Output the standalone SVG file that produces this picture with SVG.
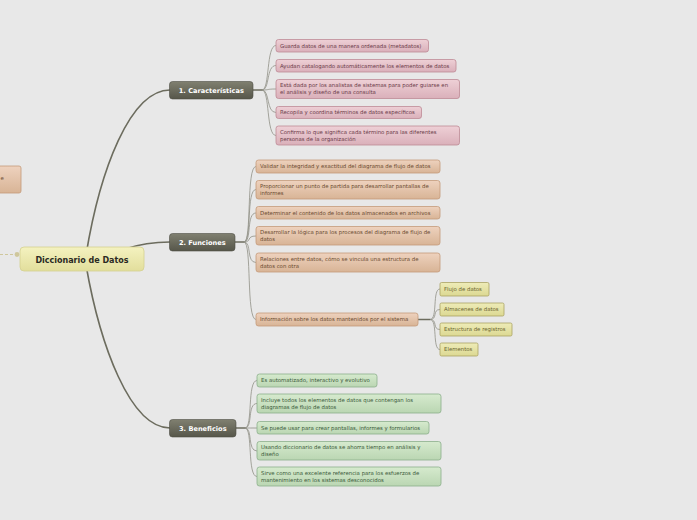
<svg xmlns="http://www.w3.org/2000/svg" width="697" height="520" viewBox="0 0 697 520">
<defs>
<linearGradient id="gPink" x1="0" y1="0" x2="0" y2="1"><stop offset="0" stop-color="#eed0d6"/><stop offset="1" stop-color="#dab0ba"/></linearGradient>
<linearGradient id="gTan" x1="0" y1="0" x2="0" y2="1"><stop offset="0" stop-color="#eed2be"/><stop offset="1" stop-color="#d8b496"/></linearGradient>
<linearGradient id="gYel" x1="0" y1="0" x2="0" y2="1"><stop offset="0" stop-color="#eeecb8"/><stop offset="1" stop-color="#dcd892"/></linearGradient>
<linearGradient id="gGrn" x1="0" y1="0" x2="0" y2="1"><stop offset="0" stop-color="#d6eace"/><stop offset="1" stop-color="#bad6b2"/></linearGradient>
<linearGradient id="gDark" x1="0" y1="0" x2="0" y2="1"><stop offset="0" stop-color="#808070"/><stop offset="1" stop-color="#56564a"/></linearGradient>
<linearGradient id="gCenter" x1="0" y1="0" x2="0" y2="1"><stop offset="0" stop-color="#f4f2c0"/><stop offset="1" stop-color="#e2de9c"/></linearGradient>
</defs>
<style>
.t{font-family:"DejaVu Sans",Verdana,sans-serif;font-size:5.4px}
.pink rect{fill:url(#gPink);stroke:#be8a96;stroke-width:0.8}
.pink text{fill:#6a3a48}
.tan rect{fill:url(#gTan);stroke:#c49a7a;stroke-width:0.8}
.tan text{fill:#6a4a30}
.yel rect{fill:url(#gYel);stroke:#aaa262;stroke-width:0.8}
.yel text{fill:#6a6430}
.grn rect{fill:url(#gGrn);stroke:#8cae8c;stroke-width:0.8}
.grn text{fill:#3a5a3a}
.br rect{fill:url(#gDark);stroke:#4e4e44;stroke-width:0.6}
.br text{font-family:"DejaVu Sans",Verdana,sans-serif;font-size:6.6px;font-weight:bold;fill:#ffffff}
.c{fill:none;stroke:#909086;stroke-width:0.8}
.m{fill:none;stroke:#6c6c5e;stroke-width:1.6;stroke-linecap:round}
</style>
<rect width="697" height="520" fill="#e8e8e8"/>

<g id="connectors">
<path class="m" d="M86 255 C100 170,130 90,170 90"/>
<path class="m" d="M125 249 C140 244,155 242,170 242"/>
<path class="m" d="M86 265 C100 345,130 428,170 428"/>
<path class="m" d="M253 90 L262 90"/>
<path class="m" d="M235 242 L244 242"/>
<path class="m" d="M236 428 L245 428"/>
<path class="m" d="M418 319.5 L430 319.5"/>
<path d="M0 254.5 L17 254.5" fill="none" stroke="#cfc79c" stroke-width="1" stroke-dasharray="3,2"/>
<circle cx="17" cy="254.5" r="2.4" fill="#cfc79c"/>
<path class="c" d="M262 90 C270 90,266 45.5,276 45.5"/>
<path class="c" d="M262 90 C270 90,266 65.5,276 65.5"/>
<path class="c" d="M262 90 C270 90,266 89,276 89"/>
<path class="c" d="M262 90 C270 90,266 112.5,276 112.5"/>
<path class="c" d="M262 90 C270 90,266 135.5,276 135.5"/>
<path class="c" d="M244 242 C252 242,246 166.5,256 166.5"/>
<path class="c" d="M244 242 C252 242,246 189.5,256 189.5"/>
<path class="c" d="M244 242 C252 242,246 213,256 213"/>
<path class="c" d="M244 242 C252 242,246 236,256 236"/>
<path class="c" d="M244 242 C252 242,246 262.5,256 262.5"/>
<path class="c" d="M244 242 C252 242,246 319.5,256 319.5"/>
<path class="c" d="M430 319.5 C438 319.5,432 289,440 289"/>
<path class="c" d="M430 319.5 C438 319.5,432 309.5,440 309.5"/>
<path class="c" d="M430 319.5 C438 319.5,432 329.5,440 329.5"/>
<path class="c" d="M430 319.5 C438 319.5,432 349.5,440 349.5"/>
<path class="c" d="M245 428 C253 428,247 380.5,257 380.5"/>
<path class="c" d="M245 428 C253 428,247 403.5,257 403.5"/>
<path class="c" d="M245 428 C253 428,247 428,257 428"/>
<path class="c" d="M245 428 C253 428,247 451,257 451"/>
<path class="c" d="M245 428 C253 428,247 476.5,257 476.5"/>
</g>

<g id="left-cut" class="tan">
<rect x="-4" y="166" width="25" height="27" rx="2"/>
<text class="t" x="0.4" y="180">e</text>
</g>

<g id="central">
<rect x="20" y="247" width="124" height="24" rx="4" fill="url(#gCenter)" stroke="#d4d090" stroke-width="0.8"/>
<text x="82" y="262.5" text-anchor="middle" font-family="DejaVu Sans,Verdana,sans-serif" font-size="8" font-weight="bold" fill="#2a2a22">Diccionario de Datos</text>
</g>

<g id="b1" class="br"><rect x="169.5" y="81.5" width="83.5" height="17.5" rx="3"/><text x="211.3" y="92.8" text-anchor="middle">1. Características</text></g>
<g id="b2" class="br"><rect x="169.5" y="233.5" width="65.5" height="17.5" rx="3"/><text x="202.3" y="244.8" text-anchor="middle">2. Funciones</text></g>
<g id="b3" class="br"><rect x="169.5" y="419.5" width="66.5" height="17.5" rx="3"/><text x="202.8" y="430.8" text-anchor="middle">3. Beneficios</text></g>

<g id="c1" class="pink"><rect x="276" y="39.5" width="152.5" height="12.5" rx="2.5"/><text class="t" x="280" y="47.6">Guarda datos de una manera ordenada (metadatos)</text></g>
<g id="c2" class="pink"><rect x="276" y="59.5" width="180" height="12.5" rx="2.5"/><text class="t" x="280" y="67.6">Ayudan catalogando automáticamente los elementos de datos</text></g>
<g id="c3" class="pink"><rect x="276" y="79.5" width="183.5" height="19" rx="2.5"/><text class="t" x="280" y="87">Está dada por los analistas de sistemas para poder guiarse en</text><text class="t" x="280" y="94">el análisis y diseño de una consulta</text></g>
<g id="c4" class="pink"><rect x="276" y="106.5" width="145.5" height="12" rx="2.5"/><text class="t" x="280" y="114.4">Recopila y coordina términos de datos específicos</text></g>
<g id="c5" class="pink"><rect x="276" y="126" width="183.5" height="19" rx="2.5"/><text class="t" x="280" y="133.5">Confirma lo que significa cada término para las diferentes</text><text class="t" x="280" y="140.5">personas de la organización</text></g>

<g id="f1" class="tan"><rect x="256" y="160" width="184" height="13" rx="2.5"/><text class="t" x="260" y="168.4">Validar la integridad y exactitud del diagrama de flujo de datos</text></g>
<g id="f2" class="tan"><rect x="256" y="180.5" width="184" height="18.5" rx="2.5"/><text class="t" x="260" y="188">Proporcionar un punto de partida para desarrollar pantallas de</text><text class="t" x="260" y="195">informes</text></g>
<g id="f3" class="tan"><rect x="256" y="206.5" width="184" height="12.5" rx="2.5"/><text class="t" x="260" y="214.6">Determinar el contenido de los datos almacenados en archivos</text></g>
<g id="f4" class="tan"><rect x="256" y="226.5" width="184" height="18.5" rx="2.5"/><text class="t" x="260" y="234">Desarrollar la lógica para los procesos del diagrama de flujo de</text><text class="t" x="260" y="241">datos</text></g>
<g id="f5" class="tan"><rect x="256" y="253" width="184" height="19" rx="2.5"/><text class="t" x="260" y="260.5">Relaciones entre datos, cómo se vincula una estructura de</text><text class="t" x="260" y="267.5">datos con otra</text></g>
<g id="f6" class="tan"><rect x="256" y="313" width="162" height="13" rx="2.5"/><text class="t" x="260" y="321.4">Información sobre los datos mantenidos por el sistema</text></g>

<g id="s1" class="yel"><rect x="440" y="282.5" width="49" height="13.5" rx="1.5"/><text class="t" x="444" y="291">Flujo de datos</text></g>
<g id="s2" class="yel"><rect x="440" y="303" width="64" height="13" rx="1.5"/><text class="t" x="444" y="311.4">Almacenes de datos</text></g>
<g id="s3" class="yel"><rect x="440" y="323" width="72" height="13" rx="1.5"/><text class="t" x="444" y="331.4">Estructura de registros</text></g>
<g id="s4" class="yel"><rect x="440" y="343" width="38" height="13" rx="1.5"/><text class="t" x="444" y="351.4">Elementos</text></g>

<g id="g1" class="grn"><rect x="257" y="374" width="120" height="13" rx="2.5"/><text class="t" x="261" y="382.4">Es automatizado, interactivo y evolutivo</text></g>
<g id="g2" class="grn"><rect x="257" y="394" width="184" height="19" rx="2.5"/><text class="t" x="261" y="401.5">Incluye todos los elementos de datos que contengan los</text><text class="t" x="261" y="408.5">diagramas de flujo de datos</text></g>
<g id="g3" class="grn"><rect x="257" y="421.5" width="172" height="12.5" rx="2.5"/><text class="t" x="261" y="429.6">Se puede usar para crear pantallas, informes y formularios</text></g>
<g id="g4" class="grn"><rect x="257" y="441.5" width="184" height="18.5" rx="2.5"/><text class="t" x="261" y="449">Usando diccionario de datos se ahorra tiempo en análisis y</text><text class="t" x="261" y="456">diseño</text></g>
<g id="g5" class="grn"><rect x="257" y="467" width="184" height="19" rx="2.5"/><text class="t" x="261" y="474.5">Sirve como una excelente referencia para los esfuerzos de</text><text class="t" x="261" y="481.5">mantenimiento en los sistemas desconocidos</text></g>
</svg>
